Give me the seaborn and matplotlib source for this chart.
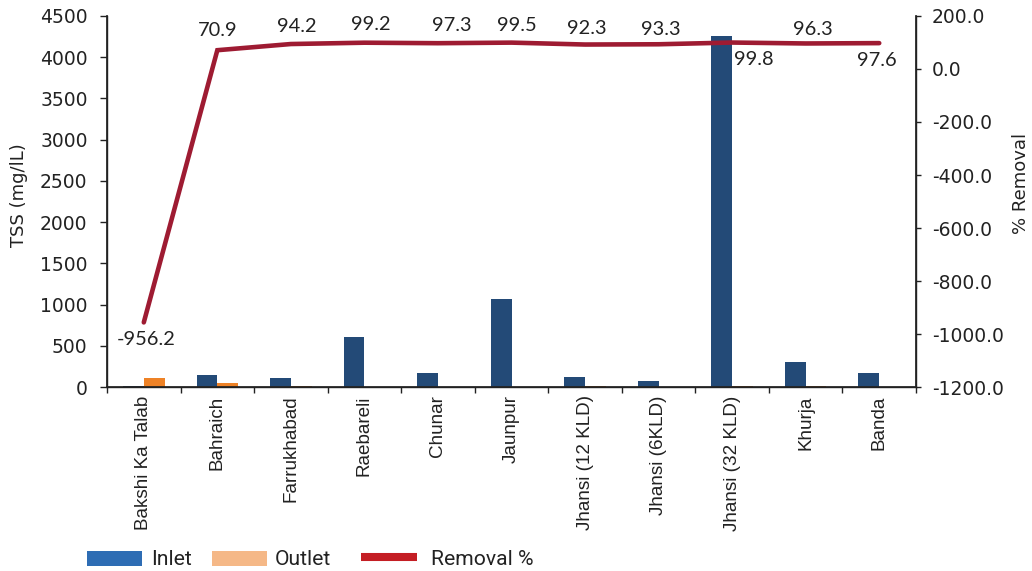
import numpy as np
import pandas as pd
import matplotlib
matplotlib.use("Agg")
import matplotlib.pyplot as plt
from matplotlib.patches import Rectangle
from matplotlib.lines import Line2D
import seaborn as sns

sites = ["Bakshi Ka Talab", "Bahraich", "Farrukhabad", "Raebareli", "Chunar",
         "Jaunpur", "Jhansi (12 KLD)", "Jhansi (6KLD)", "Jhansi (32 KLD)",
         "Khurja", "Banda"]
inlet = [10, 150, 110, 607, 166, 1068, 121, 69, 4257, 300, 166]
outlet = [105.6, 43.6, 6.4, 4.9, 4.5, 5.3, 9.3, 4.6, 8.5, 11.1, 4.0]
removal = [-956.2, 70.9, 94.2, 99.2, 97.3, 99.5, 92.3, 93.3, 99.8, 96.3, 97.6]

sns.set_theme(style="white")
plt.rcParams["font.family"] = ["DejaVu Sans"]
TXT = "#222222"

df = pd.DataFrame({
    "Site": sites * 2,
    "TSS": inlet + outlet,
    "Stream": ["Inlet"] * len(sites) + ["Outlet"] * len(sites),
})

fig = plt.figure(figsize=(10.32, 5.71), dpi=100)
ax = fig.add_axes([0.1037, 0.3222, 0.7839, 0.6498])

bar_cols = {"Inlet": "#234A77", "Outlet": "#EE8226"}
sns.barplot(data=df, x="Site", y="TSS", hue="Stream", palette=bar_cols,
            width=0.565, gap=0, ax=ax, legend=False, saturation=1,
            linewidth=0, edgecolor="none")
ax.set_xlim(-0.5, len(sites) - 0.5)
ax.set_ylim(0, 4500)
ax.set_yticks(np.arange(0, 4501, 500))
ax.set_xlabel("")
ax.set_ylabel("TSS (mg/lL)", fontsize=13, color=TXT)
ax.yaxis.set_label_coords(-0.098, 0.517)
ax.tick_params(axis="y", labelsize=13.5, colors=TXT, length=5, width=1,
               direction="out", left=True, pad=9)
ax.set_xticks(range(len(sites)))
ax.set_xticklabels(sites, rotation=90, va="top", ha="center",
                   family=["Liberation Sans", "DejaVu Sans"], fontsize=13.6,
                   color=TXT)
ax.tick_params(axis="x", which="major", length=0, pad=6)
ax.set_xticks(np.arange(-0.5, len(sites), 1.0), minor=True)
ax.tick_params(axis="x", which="minor", length=4, width=1, color=TXT,
               bottom=True)
for side in ["left", "bottom", "right"]:
    ax.spines[side].set_color(TXT)
    ax.spines[side].set_linewidth(1)
ax.spines["top"].set_visible(False)

ax2 = ax.twinx()
sns.lineplot(x=np.arange(len(sites)), y=removal, ax=ax2, color="#9E1B32",
             linewidth=3.3)
for ln in ax2.lines:
    ln.set_solid_capstyle("round")
    ln.set_solid_joinstyle("miter")
ax2.set_ylim(-1200, 200)
ticks2 = np.arange(-1200, 201, 200)
ax2.set_yticks(ticks2)
ax2.set_yticklabels([f"{v:.1f}" for v in ticks2])
ax2.set_ylabel("% Removal", fontsize=13, color=TXT)
ax2.yaxis.set_label_coords(1.119, 0.548)
ax2.tick_params(axis="y", labelsize=13.5, colors=TXT, length=3.5, width=1,
                direction="out", right=True, pad=8)
for side in ["left", "bottom", "right"]:
    ax2.spines[side].set_color(TXT)
ax2.spines["top"].set_visible(False)

# label offsets in pixels (dx, dy) from each point
label_offsets = [(2, -17.5), (0, 20), (6, 18), (6.5, 18.5), (13.5, 18),
                 (5, 17.6), (2, 15.6), (2, 14.5), (21.5, -17.4), (7, 13.5),
                 (-2, -17)]
for i, v in enumerate(removal):
    dx, dy = label_offsets[i]
    ax2.annotate(f"{v:.1f}", (i, v), xytext=(dx * 0.72, dy * 0.72),
                 textcoords="offset points", ha="center", va="center",
                 fontsize=14.4, color=TXT, family=["Lato", "DejaVu Sans"])

# legend row beneath the axis labels
W, H = 1032.0, 571.0
leg_font = ["Liberation Sans Narrow", "Roboto", "DejaVu Sans"]
fig.patches.append(Rectangle((87 / W, 1 - 566 / H), 55 / W, 15.3 / H,
                             transform=fig.transFigure, facecolor="#2E6DB4",
                             edgecolor="none"))
fig.patches.append(Rectangle((211.7 / W, 1 - 566 / H), 55 / W, 15.3 / H,
                             transform=fig.transFigure, facecolor="#F5B887",
                             edgecolor="none"))
fig.lines.append(Line2D([361 / W, 416.7 / W], [1 - 557 / H, 1 - 557 / H],
                        transform=fig.transFigure, color="#C41E24",
                        linewidth=5.8, solid_capstyle="butt"))
for x0, s in [(151, "Inlet"), (275, "Outlet"), (430.7, "Removal %")]:
    fig.text(x0 / W, 1 - 565 / H, s, ha="left", va="baseline",
             fontsize=15.2, color=TXT, family=leg_font)

fig.savefig("out.png", dpi=100)
